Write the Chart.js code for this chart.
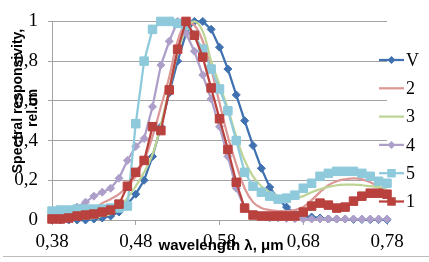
<!DOCTYPE html>
<html>
<head>
<meta charset="utf-8">
<script src="https://cdn.jsdelivr.net/npm/chart.js@4"></script>
<style>
  body { margin: 0; background: #fff; }
</style>
</head>
<body>
<canvas id="chart" width="429" height="262"></canvas>
<script>
const wavelengths = [0.38,0.39,0.40,0.41,0.42,0.43,0.44,0.45,0.46,0.47,
  0.48,0.49,0.50,0.51,0.52,0.53,0.54,0.55,0.56,0.57,
  0.58,0.59,0.60,0.61,0.62,0.63,0.64,0.65,0.66,0.67,
  0.68,0.69,0.70,0.71,0.72,0.73,0.74,0.75,0.76,0.77,0.78];

const seriesV = [0,0,0,0,0,0.005,0.01,0.02,0.04,0.08,
  0.13,0.20,0.32,0.47,0.64,0.80,0.94,1.0,1.0,0.96,
  0.87,0.76,0.63,0.50,0.375,0.26,0.165,0.105,0.065,0.035,
  0.02,0.015,0.01,0.005,0.005,0.005,0.003,0.003,0.002,0.002,0.001];
const series2 = [0,0,0.005,0.012,0.03,0.055,0.085,0.105,0.13,0.17,
  0.22,0.30,0.42,0.57,0.72,0.90,0.99,0.98,0.90,0.76,
  0.59,0.42,0.28,0.16,0.09,0.06,0.05,0.045,0.045,0.05,
  0.065,0.10,0.14,0.175,0.195,0.205,0.21,0.205,0.19,0.165,0.14];
const series3 = [0.005,0.005,0.005,0.005,0.008,0.01,0.02,0.03,0.06,0.11,
  0.17,0.24,0.33,0.48,0.66,0.84,0.96,1.0,0.95,0.80,
  0.68,0.56,0.42,0.30,0.22,0.17,0.14,0.12,0.11,0.11,
  0.12,0.14,0.155,0.167,0.175,0.178,0.178,0.175,0.17,0.165,0.16];
const series4 = [0.02,0.025,0.04,0.065,0.09,0.12,0.14,0.16,0.21,0.30,
  0.37,0.41,0.57,0.78,0.90,1.0,0.94,0.85,0.73,0.61,
  0.47,0.32,0.16,0.06,0.025,0.015,0.01,0.01,0.008,0.006,
  0.005,0.005,0.005,0.005,0.005,0.005,0.005,0.005,0.005,0.005,0.005];
const series5 = [0.045,0.05,0.05,0.055,0.055,0.055,0.055,0.06,0.06,0.07,
  0.485,0.80,0.96,1.0,1.0,0.99,0.98,0.93,0.86,0.76,
  0.66,0.55,0.40,0.24,0.17,0.14,0.12,0.105,0.11,0.125,
  0.16,0.185,0.22,0.235,0.245,0.245,0.245,0.235,0.22,0.195,0.185];
const series1 = [0.005,0.005,0.01,0.02,0.025,0.03,0.04,0.05,0.08,0.17,
  0.24,0.30,0.47,0.45,0.655,0.86,1.0,0.93,0.82,0.665,
  0.51,0.355,0.19,0.06,0.025,0.02,0.02,0.02,0.02,0.02,
  0.04,0.07,0.085,0.075,0.06,0.065,0.095,0.12,0.135,0.135,0.13];

const xTicks = [0.38,0.48,0.58,0.68,0.78];
const yTicks = [0,0.2,0.4,0.6,0.8,1];
const xTitle = 'wavelength λ, μm';
const yTitleLines = ['Spectral responsivity,', 'rel.un'];

const gridColor = '#a3a3a3';
const serif = '"Liberation Serif", "Times New Roman", serif';

function pts(values) {
  return wavelengths.map((x, i) => ({ x: x, y: values[i] }));
}

function line(label, values, color, style, radius, order, tension) {
  return {
    label: label,
    data: pts(values),
    borderColor: color,
    backgroundColor: color,
    borderWidth: 2.25,
    pointStyle: style || 'circle',
    pointRadius: radius,
    pointBackgroundColor: color,
    pointBorderColor: color,
    pointBorderWidth: 1,
    tension: tension || 0,
    order: order,
    clip: false
  };
}

const datasets = [
  line('V', seriesV, '#3f71b0', 'rectRot', 4, 6),
  line('2', series2, '#dc9896', null, 0, 5, 0.4),
  line('3', series3, '#bdd495', null, 0, 4, 0.4),
  line('4', series4, '#ad9fc9', 'rectRot', 4, 3),
  line('5', series5, '#8ecadb', 'rect', 6, 2),
  line('1', series1, '#b9413e', 'rect', 6, 1)
];

const decorations = {
  id: 'decorations',
  afterDraw(chart) {
    const ctx = chart.ctx;
    ctx.save();
    // outer frame bottom edge
    ctx.strokeStyle = '#bdbdbd';
    ctx.lineWidth = 1;
    ctx.beginPath();
    ctx.moveTo(3, 256.5);
    ctx.lineTo(429, 256.5);
    ctx.stroke();

    // legend
    ctx.font = '18px ' + serif;
    ctx.textAlign = 'left';
    ctx.textBaseline = 'middle';
    datasets.forEach((ds, i) => {
      const y = 60 + i * 28.3;
      ctx.strokeStyle = ds.borderColor;
      ctx.lineWidth = 2.25;
      ctx.beginPath();
      ctx.moveTo(379, y);
      ctx.lineTo(404, y);
      ctx.stroke();
      ctx.fillStyle = ds.borderColor;
      if (ds.pointRadius > 0) {
        const r = ds.pointRadius;
        if (ds.pointStyle === 'rect') {
          const s = r * Math.SQRT1_2;
          ctx.fillRect(391.5 - s, y - s, 2 * s, 2 * s);
        } else {
          ctx.beginPath();
          ctx.moveTo(391.5, y - r);
          ctx.lineTo(391.5 + r, y);
          ctx.lineTo(391.5, y + r);
          ctx.lineTo(391.5 - r, y);
          ctx.closePath();
          ctx.fill();
        }
      }
      ctx.fillStyle = '#000';
      ctx.fillText(ds.label, 406, y + 1);
    });

    // axis titles
    ctx.fillStyle = '#000';
    ctx.textAlign = 'center';
    ctx.textBaseline = 'alphabetic';
    ctx.font = 'bold 15px "Liberation Sans", Arial, sans-serif';
    ctx.fillText(xTitle, 221, 250);
    ctx.font = 'bold 14px "Liberation Sans", Arial, sans-serif';
    yTitleLines.forEach((txt, i) => {
      ctx.save();
      ctx.translate(22 + i * 15, 101 + i * 7);
      ctx.rotate(-Math.PI / 2);
      ctx.fillText(txt, 0, 0);
      ctx.restore();
    });
    ctx.restore();
  }
};

new Chart(document.getElementById('chart'), {
  type: 'line',
  data: { datasets: datasets },
  options: {
    responsive: false,
    animation: false,
    events: [],
    layout: { padding: { top: 14, right: 42, bottom: 0, left: 0 } },
    plugins: { legend: { display: false }, tooltip: { enabled: false } },
    scales: {
      x: {
        type: 'linear',
        min: 0.38,
        max: 0.78,
        afterBuildTicks: s => { s.ticks = xTicks.map(v => ({ value: v })); },
        afterFit: s => { s.height = 42; },
        ticks: {
          callback: v => v.toFixed(2).replace('.', ','),
          font: { family: serif, size: 19 },
          color: '#000',
          padding: 6,
          maxRotation: 0,
          autoSkip: false
        },
        grid: { drawOnChartArea: false, drawTicks: true, tickLength: 5, color: gridColor },
        border: { color: gridColor }
      },
      y: {
        min: 0,
        max: 1,
        afterBuildTicks: s => { s.ticks = yTicks.map(v => ({ value: v })); },
        afterFit: s => { s.width = 52; },
        ticks: {
          callback: v => (v === 0 || v === 1) ? String(v) : v.toFixed(1).replace('.', ','),
          font: { family: serif, size: 19 },
          color: '#000',
          padding: 10
        },
        grid: { color: gridColor, tickLength: 4 },
        border: { color: gridColor }
      }
    }
  },
  plugins: [decorations]
});
</script>
</body>
</html>
